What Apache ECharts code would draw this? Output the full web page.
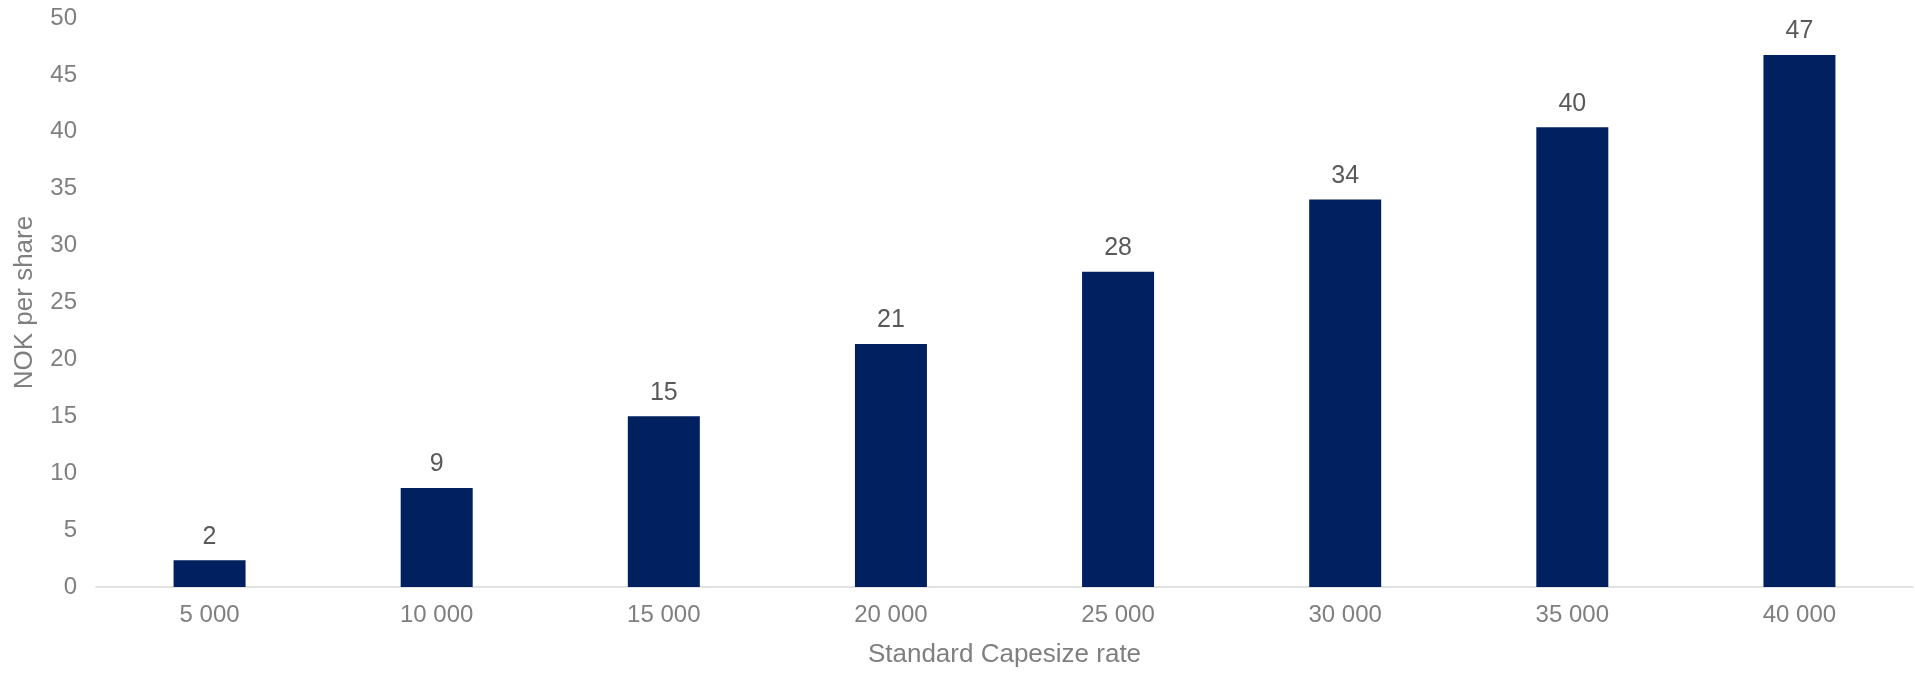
<!DOCTYPE html>
<html>
<head>
<meta charset="utf-8">
<script src="https://cdn.jsdelivr.net/npm/echarts@6/dist/echarts.min.js"></script>
<style>
  html, body { margin: 0; padding: 0; background: #ffffff; }
  #chart { width: 1915px; height: 673px; }
</style>
</head>
<body>
<div id="chart"></div>
<script>
// Capesize rate scenarios (USD/day) and resulting value per share (NOK)
const rates = ['5 000', '10 000', '15 000', '20 000', '25 000', '30 000', '35 000', '40 000'];
const nokPerShare = [2.35, 8.7, 15.0, 21.35, 27.7, 34.05, 40.4, 46.75];

const FONT = '"Liberation Sans", Arial, sans-serif';

const chart = echarts.init(document.getElementById('chart'));
chart.setOption({
  animation: false,
  backgroundColor: '#ffffff',
  grid: { left: 96, right: 2, top: 18, bottom: 81, containLabel: false },
  xAxis: {
    type: 'category',
    data: rates,
    name: 'Standard Capesize rate',
    nameLocation: 'middle',
    nameGap: 55,
    nameTextStyle: { color: '#7f7f7f', fontSize: 26, fontFamily: FONT },
    axisLine: { lineStyle: { color: '#d9d9d9', width: 1.5 } },
    axisTick: { show: false },
    axisLabel: { color: '#7f7f7f', fontSize: 24, fontFamily: FONT, margin: 16 }
  },
  yAxis: {
    type: 'value',
    min: 0,
    max: 50,
    interval: 5,
    name: 'NOK per share',
    nameLocation: 'middle',
    nameGap: 58,
    nameTextStyle: { color: '#7f7f7f', fontSize: 26, fontFamily: FONT },
    axisLine: { show: false },
    axisTick: { show: false },
    splitLine: { show: false },
    axisLabel: { color: '#7f7f7f', fontSize: 24, fontFamily: FONT, margin: 19 }
  },
  series: [{
    type: 'bar',
    data: nokPerShare,
    barWidth: 72,
    itemStyle: { color: '#002060' },
    label: {
      show: true,
      position: 'top',
      distance: 11,
      color: '#595959',
      fontSize: 25,
      fontFamily: FONT,
      formatter: p => Math.round(p.value)
    }
  }]
});
</script>
</body>
</html>
